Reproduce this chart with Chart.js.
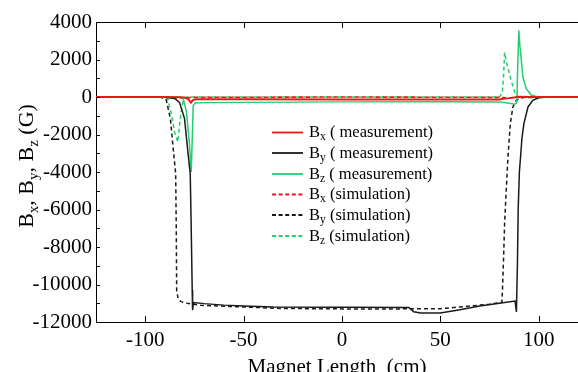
<!DOCTYPE html>
<html><head><meta charset="utf-8">
<script src="https://cdn.jsdelivr.net/npm/chart.js@4/dist/chart.umd.min.js"></script>
<style>html,body{margin:0;padding:0;background:#fff;overflow:hidden}</style>
</head><body>
<canvas id="c" width="578" height="372"></canvas>
<script>
// ---- data ----
const xTicks = [-100, -50, 0, 50, 100];
const yTicks = [4000, 2000, 0, -2000, -4000, -6000, -8000, -10000, -12000];
const yMinorTicks = [3000, 1000, -1000, -3000, -5000, -7000, -9000, -11000];

const bxMeasX = [-125, -90, -80, -78, -76.8, -75.5, -73, -50, 0, 50, 80, 82, 85, 88.5, 90, 95, 120];
const bxMeasY = [0, 0, -20, -120, -300, -140, -120, -120, -130, -130, -130, -90, -60, -10, 10, 0, 0];

const byMeasX = [-125, -90, -85, -82.5, -80, -78.3, -77.1, -76.6, -76.1, -75.9, -75.5, -70, -60, -50, -35, 0, 34, 36.5, 40, 50, 60, 70, 80, 88, 88.7, 89.2, 89.6, 90.2, 90.8, 91.5, 92.5, 94.6, 97, 100, 105, 120];
const byMeasY = [0, -10, -80, -300, -1150, -2930, -4085, -7000, -10300, -11370, -10960, -11020, -11100, -11150, -11200, -11210, -11220, -11450, -11520, -11520, -11350, -11150, -11000, -10880, -11460, -9000, -6000, -4000, -3200, -2200, -1420, -530, -180, -40, 0, 0];

const bzMeasX = [-125, -82, -80.8, -79, -77.5, -76.6, -76, -75.6, -74.5, -70, 0, 50, 80, 85, 87.8, 88.9, 89.4, 89.9, 90.5, 91.2, 92, 93.7, 96.3, 100, 120];
const bzMeasY = [0, 0, -50, -800, -2500, -4000, -2000, -450, -320, -300, -260, -250, -260, -330, -390, -300, 1800, 3557, 2700, 1957, 1067, 448, 90, 0, 0];

const bxSimX = [-125, -90, -85, -80, -75, 0, 80, 85, 90, 120];
const bxSimY = [0, 0, -50, -40, -20, 0, -20, -50, 0, 0];

const bySimX = [-125, -92, -89.3, -87.2, -85.6, -84.5, -84.2, -84.0, -83.3, -82, -80, -72, -50, -30, 0, 30, 50, 65, 75, 81.3, 81.6, 82.2, 82.7, 83.5, 84.4, 85.6, 86.9, 88.6, 92, 120];
const bySimY = [0, -20, -150, -1150, -2930, -4085, -7000, -10300, -10750, -10900, -10980, -11110, -11200, -11280, -11300, -11300, -11290, -11150, -11050, -10950, -10300, -8500, -6740, -5000, -3200, -1420, -530, -180, -30, 0];

const bzSimX = [-125, -90, -88.5, -86.5, -85, -83.4, -82.5, -81.5, -80.5, -79, 80, 81.5, 82.2, 82.7, 84, 86, 88, 89.5, 120];
const bzSimY = [0, 0, -100, -1000, -1900, -2400, -1500, -600, -100, 0, 0, 200, 1200, 2370, 1700, 900, 200, 0, 0];

const RED = 'rgb(238,22,22)', BLACK = '#1a1a1a', GREEN = 'rgb(34,206,110)';
const SERIF = '"Liberation Serif", "Times New Roman", serif';

function pts(xs, ys) { return xs.map((x, i) => ({ x: x, y: ys[i] })); }

const series = [
  { sub: 'x', label: ' ( measurement)', color: RED, width: 2, dash: [], x: bxMeasX, y: bxMeasY },
  { sub: 'y', label: ' ( measurement)', color: BLACK, width: 1.5, dash: [], x: byMeasX, y: byMeasY },
  { sub: 'z', label: ' ( measurement)', color: GREEN, width: 1.5, dash: [], x: bzMeasX, y: bzMeasY },
  { sub: 'x', label: ' (simulation)', color: RED, width: 1.6, dash: [4, 3], x: bxSimX, y: bxSimY },
  { sub: 'y', label: ' (simulation)', color: BLACK, width: 1.5, dash: [4, 3], x: bySimX, y: bySimY },
  { sub: 'z', label: ' (simulation)', color: GREEN, width: 1.5, dash: [4, 3], x: bzSimX, y: bzSimY }
];

function drawRich(ctx, parts, x, y, size, subSize, subDrop) {
  let cx = x;
  for (const p of parts) {
    ctx.font = (p.sub ? subSize : size) + 'px ' + SERIF;
    ctx.fillText(p.t, cx, y + (p.sub ? subDrop : 0));
    cx += ctx.measureText(p.t).width;
  }
  return cx - x;
}
function richWidth(ctx, parts, size, subSize) {
  let w = 0;
  for (const p of parts) { ctx.font = (p.sub ? subSize : size) + 'px ' + SERIF; w += ctx.measureText(p.t).width; }
  return w;
}

const decor = {
  id: 'decor',
  afterDraw(chart) {
    const ctx = chart.ctx, a = chart.chartArea;
    const xs = chart.scales.x, ys = chart.scales.y;
    ctx.save();
    ctx.strokeStyle = '#000'; ctx.lineWidth = 1;
    ctx.beginPath();
    ctx.moveTo(a.left, a.top + 0.5); ctx.lineTo(a.right, a.top + 0.5);
    for (const v of yTicks.concat(yMinorTicks)) {
      const py = Math.round(ys.getPixelForValue(v)) + 0.5;
      ctx.moveTo(a.left, py); ctx.lineTo(a.left + 4, py);
    }
    for (const v of xTicks) {
      const px = Math.round(xs.getPixelForValue(v)) + 0.5;
      ctx.moveTo(px, a.bottom); ctx.lineTo(px, a.bottom - 6);
      ctx.moveTo(px, a.top); ctx.lineTo(px, a.top + 6);
    }
    ctx.stroke();

    // legend
    const rows = [132.5, 153, 174, 194.5, 215, 236];
    ctx.fillStyle = '#000';
    ctx.textBaseline = 'middle';
    series.forEach((s, i) => {
      const y = rows[i];
      ctx.strokeStyle = s.color; ctx.lineWidth = 1.8; ctx.setLineDash(s.dash.length ? [4, 2.6] : []);
      ctx.beginPath(); ctx.moveTo(272, y); ctx.lineTo(303, y); ctx.stroke();
      ctx.setLineDash([]);
      drawRich(ctx, [{ t: 'B' }, { t: s.sub, sub: true }, { t: s.label }], 309, y + 0.5, 16.5, 11.5, 4);
    });

    // y axis title with subscripts
    const parts = [{ t: 'B' }, { t: 'x', sub: true }, { t: ', B' }, { t: 'y', sub: true }, { t: ', B' }, { t: 'z', sub: true }, { t: ' (G)' }];
    ctx.translate(33, 166);
    ctx.rotate(-Math.PI / 2);
    ctx.textBaseline = 'alphabetic';
    const w = richWidth(ctx, parts, 22, 15);
    drawRich(ctx, parts, -w / 2, 0, 22, 15, 5);
    ctx.restore();
  }
};

new Chart(document.getElementById('c'), {
  type: 'line',
  data: {
    datasets: series.map(s => ({
      label: 'B' + s.sub + s.label,
      data: pts(s.x, s.y),
      borderColor: s.color,
      backgroundColor: s.color,
      borderWidth: s.width,
      borderDash: s.dash,
      pointRadius: 0,
      tension: 0,
      fill: false
    }))
  },
  options: {
    responsive: false,
    animation: false,
    events: [],
    layout: { padding: 0 },
    plugins: { legend: { display: false }, tooltip: { enabled: false } },
    scales: {
      x: {
        type: 'linear', position: 'bottom', min: -125, max: 120,
        afterFit: s => { s.height = 50; },
        afterBuildTicks: s => { s.ticks = xTicks.map(v => ({ value: v })); },
        grid: { display: false, drawTicks: false },
        border: { display: true, color: '#000', width: 1 },
        ticks: { color: '#000', font: { family: SERIF, size: 21 }, padding: 6, maxRotation: 0, autoSkip: false, callback: v => String(v) },
        title: { display: true, text: 'Magnet Length  (cm)', color: '#000', font: { family: SERIF, size: 21, lineHeight: 0.4 }, padding: 0 }
      },
      xTop: {
        type: 'linear', position: 'top', min: -125, max: 120,
        afterFit: s => { s.height = 22; },
        grid: { display: false, drawTicks: false },
        border: { display: false },
        ticks: { display: false }
      },
      y: {
        type: 'linear', position: 'left', min: -12000, max: 4000,
        afterFit: s => { s.width = 96; },
        afterBuildTicks: s => { s.ticks = yTicks.map(v => ({ value: v })); },
        grid: { display: false, drawTicks: false },
        border: { display: true, color: '#000', width: 1 },
        ticks: { color: '#000', font: { family: SERIF, size: 21 }, padding: 4, autoSkip: false, callback: v => String(v) }
      }
    }
  },
  plugins: [decor]
});
</script>
</body></html>
